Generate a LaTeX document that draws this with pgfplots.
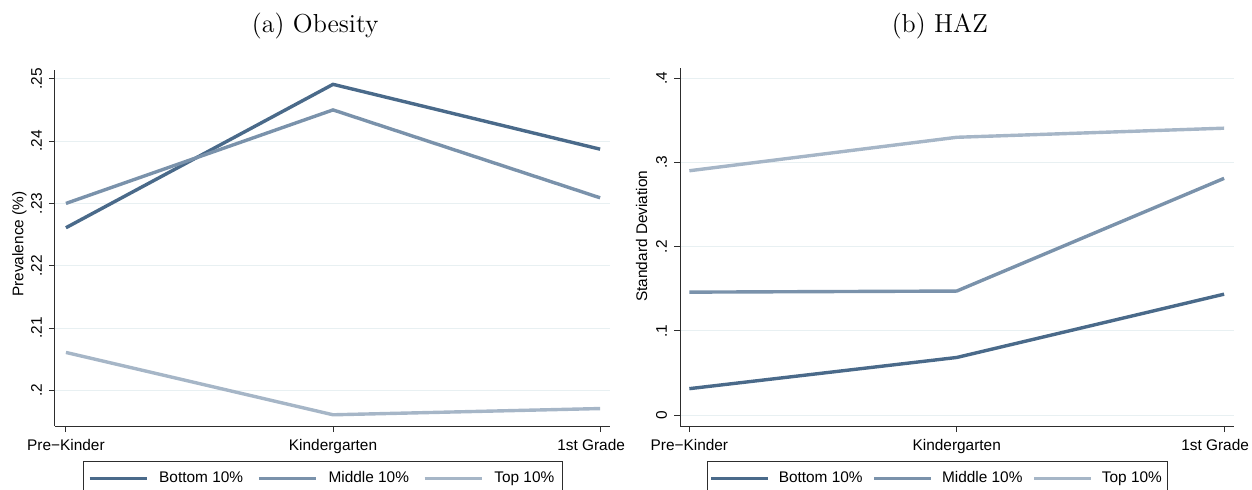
\documentclass[border=0pt]{standalone}
\usepackage{fontspec}
\newfontfamily\arial{Liberation Sans}
\usepackage{pgfplots}
\pgfplotsset{compat=1.18}
\definecolor{c1}{RGB}{74,106,138}
\definecolor{c2}{RGB}{122,146,171}
\definecolor{c3}{RGB}{166,182,199}
\definecolor{gridc}{RGB}{232,240,242}
\definecolor{axc}{RGB}{45,45,45}
\newcommand{\sfont}{\arial\fontsize{7.7}{9}\selectfont}
\pgfplotsset{
  stata/.style={
    scale only axis,
    axis x line=bottom, axis y line=left,
    axis line style={-, draw=axc, line width=0.5pt},
    tick align=outside, major tick length=3pt,
    every tick/.style={draw=axc, line width=0.5pt},
    ymajorgrids, grid style={draw=gridc, line width=0.5pt},
    xtick={0,1,2}, xticklabels={Pre−Kinder,Kindergarten,{1st Grade\kern9pt}},
    ticklabel style={font=\sfont},
    yticklabel style={rotate=90, anchor=south},
    label style={font=\sfont},
    every axis title shift=0pt,
    title style={anchor=base, font=\fontsize{13}{15}\selectfont},
    no markers,
    every axis plot/.append style={line width=1.7pt},
    legend columns=3,
    legend image code/.code={\draw[#1, line width=1.7pt] (0pt,0pt) -- (28.5pt,0pt);},
    legend style={font=\sfont, draw=axc, line width=0.5pt, anchor=north,
      inner ysep=3pt},
  }
}
\begin{document}
\begin{tikzpicture}
\path[use as bounding box] (0,0) rectangle (626pt,244.5pt);
\begin{axis}[stata,
  at={(27.5pt,31.5pt)}, anchor=south west,
  width=277.5pt, height=178pt,
  xmin=-0.041, xmax=2.037, ymin=0.1943, ymax=0.2514,
  ytick={0.2,0.21,0.22,0.23,0.24,0.25},
  yticklabels={.2,.21,.22,.23,.24,.25},
  ylabel={Prevalence (\%)},
  ylabel style={at={(axis description cs:-0.064,0.511)}, anchor=center},
  title={(a) Obesity},
  title style={at={(axis description cs:0.469,1.104)}},
  legend style={at={(axis description cs:0.483,-0.098)}, inner xsep=2pt,
    /tikz/every odd column/.append style={column sep=3.5pt},
    /tikz/every even column/.append style={column sep=5pt}},
]
\addplot[c1] coordinates {(0,0.2261) (1,0.2491) (2,0.2387)};
\addplot[c2] coordinates {(0,0.2300) (1,0.2450) (2,0.2309)};
\addplot[c3] coordinates {(0,0.2061) (1,0.1961) (2,0.1971)};
\legend{Bottom 10\%,Middle 10\%,Top 10\%}
\end{axis}
\begin{axis}[stata,
  at={(340pt,31.5pt)}, anchor=south west,
  width=277pt, height=179pt,
  xmin=-0.035, xmax=2.037, ymin=-0.0128, ymax=0.4119,
  ytick={0,0.1,0.2,0.3,0.4},
  yticklabels={0,.1,.2,.3,.4},
  ylabel={Standard Deviation},
  ylabel style={at={(axis description cs:-0.0695,0.53)}, anchor=center},
  title={(b) HAZ},
  title style={at={(axis description cs:0.469,1.098)}},
  legend style={at={(axis description cs:0.465,-0.098)}, inner xsep=1pt,
    /tikz/every odd column/.append style={column sep=2.5pt},
    /tikz/every even column/.append style={column sep=3pt}},
]
\addplot[c1] coordinates {(0,0.0315) (1,0.0685) (2,0.1436)};
\addplot[c2] coordinates {(0,0.1460) (1,0.1473) (2,0.2810)};
\addplot[c3] coordinates {(0,0.2900) (1,0.3297) (2,0.3405)};
\legend{Bottom 10\%,Middle 10\%,Top 10\%}
\end{axis}
\end{tikzpicture}
\end{document}
